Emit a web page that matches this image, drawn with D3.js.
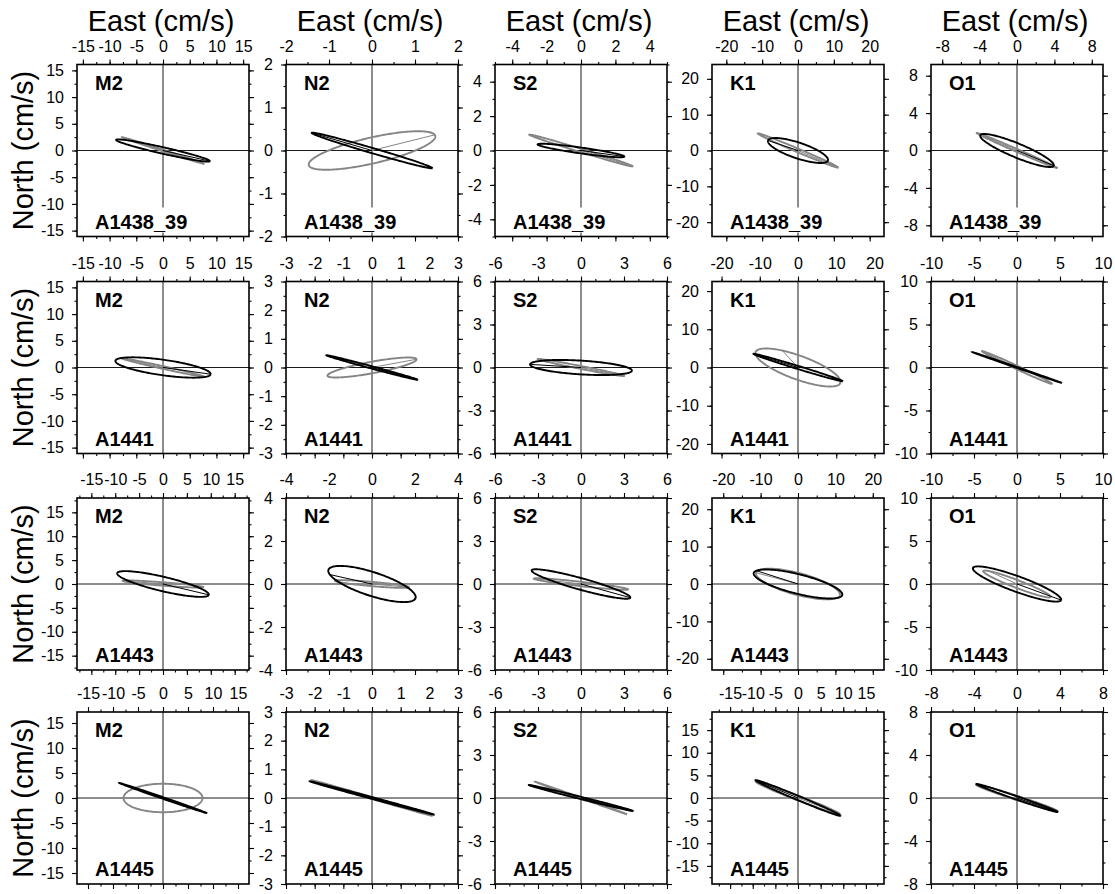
<!DOCTYPE html>
<html>
<head>
<meta charset="utf-8">
<script src="https://cdn.jsdelivr.net/npm/d3@7"></script>
<style>
body { margin: 0; background: #fff; }
svg { display: block; }
text { font-family: "Liberation Sans", Arial, Helvetica, sans-serif; }
</style>
</head>
<body>
<script>
var stations = ['A1438_39', 'A1441', 'A1443', 'A1445'];
var constituents = ['M2', 'N2', 'S2', 'K1', 'O1'];

// half range of each panel (cm/s), same for east and north
var axisLimit = [
  [16.1, 2, 5, 24, 9.2],
  [16.1, 3, 6, 22.5, 10],
  [18, 4, 6, 23, 10],
  [17.2, 3, 6, 19, 8]
];
var annotStep = [
  [5, 1, 2, 10, 4],
  [5, 1, 3, 10, 5],
  [5, 2, 3, 10, 5],
  [5, 1, 3, 5, 4]
];
var minorStep = [
  [2.5, 0.5, 1, 5, 2],
  [2.5, 0.5, 1, 5, 2.5],
  [2.5, 1, 1, 5, 2.5],
  [2.5, 0.5, 1, 2.5, 2]
];

// observed ellipses (black): semi-major, semi-minor, inclination (deg), phase point (deg)
var obsMajor = [
  [9.0, 1.46, 2.55, 8.8, 4.25],
  [9.0, 1.65, 3.56, 12.2, 5.5],
  [9.85, 2.13, 3.57, 12.2, 5.45],
  [9.3, 2.25, 3.75, 10.2, 4.0]
];
var obsMinor = [
  [0.6, 0.06, 0.17, 2.2, 0.75],
  [1.45, 0.04, 0.48, 0.4, 0.05],
  [1.5, 0.55, 0.4, 2.6, 0.9],
  [0.15, 0.03, 0.08, 0.45, 0.15]
];
var obsInc = [
  [-12.8, -16.3, -8, -18.5, -22.5],
  [-8, -15, -3.5, -17, -19],
  [-13.3, -18, -15.5, -14, -20],
  [-19, -15, -14, -22.7, -19]
];
var obsPhase = [
  [0, 180, 0, 180, 0],
  [0, 0, 180, 180, 0],
  [0, 200, 0, 163, 0],
  [0, 0, 0, 180, 0]
];

// model ellipses (gray)
var modMajor = [
  [8.1, 1.51, 3.15, 12.2, 4.7],
  [7.9, 1.58, 3.08, 11.8, 4.5],
  [8.5, 1.73, 3.32, 11.6, 4.2],
  [7.9, 2.2, 3.4, 9.9, 4.0]
];
var modMinor = [
  [0.15, 0.30, 0.1, 0.5, 0.15],
  [0.25, 0.2, 0.1, 3.1, 0.2],
  [0.35, 0.1, 0.15, 2.9, 0.45],
  [2.85, 0.03, 0.03, 0.5, 0.2]
];
var modInc = [
  [-18, 13, -17, -23, -23.5],
  [-12.5, 10.5, -11, -20, -25],
  [-4.5, -5, -6.5, -15, -21],
  [0, -16.5, -19.5, -21, -18]
];
var modPhase = [
  [0, 5, 0, 0, 180],
  [180, 0, 0, 117, 180],
  [180, 0, 180, 180, 150],
  [0, 180, 180, 0, 0]
];

var W = 1115, H = 894;
var half = 86;
var colCenter = [163, 372, 581, 798, 1017];
var rowCenter = [150.5, 367.5, 584, 798];

var svg = d3.select('body').append('svg')
  .attr('width', W)
  .attr('height', H);

// column titles
colCenter.forEach(function(cx) {
  svg.append('text')
    .attr('x', cx - 2)
    .attr('y', 31)
    .attr('text-anchor', 'middle')
    .attr('font-size', 29)
    .text('East (cm/s)');
});
// row titles
rowCenter.forEach(function(cy) {
  svg.append('text')
    .attr('transform', 'translate(33,' + cy + ') rotate(-90)')
    .attr('text-anchor', 'middle')
    .attr('font-size', 29)
    .text('North (cm/s)');
});

function stepTicks(lim, step) {
  var out = [];
  var n = Math.floor(lim / step + 1e-9);
  for (var k = -n; k <= n; k++) out.push(+(k * step).toFixed(4));
  return out;
}

function ellipsePoints(a, b, inc) {
  var th = inc * Math.PI / 180, pts = [];
  for (var i = 0; i <= 180; i++) {
    var t = i / 180 * 2 * Math.PI;
    var u = a * Math.cos(t), v = b * Math.sin(t);
    pts.push([u * Math.cos(th) - v * Math.sin(th), u * Math.sin(th) + v * Math.cos(th)]);
  }
  return pts;
}

function phasePoint(a, b, inc, pha) {
  var th = inc * Math.PI / 180, t = pha * Math.PI / 180;
  var u = a * Math.cos(t), v = b * Math.sin(t);
  return [u * Math.cos(th) - v * Math.sin(th), u * Math.sin(th) + v * Math.cos(th)];
}

stations.forEach(function(st, r) {
  constituents.forEach(function(con, c) {
    var lim = axisLimit[r][c];
    var left = colCenter[c] - half, top = rowCenter[r] - half;
    var x = d3.scaleLinear().domain([-lim, lim]).range([0, 2 * half]);
    var y = d3.scaleLinear().domain([-lim, lim]).range([2 * half, 0]);
    var g = svg.append('g').attr('transform', 'translate(' + left + ',' + top + ')');

    var majors = stepTicks(lim, annotStep[r][c]);
    var minors = stepTicks(lim, minorStep[r][c]);
    var fmt = function(d) { return String(d); };

    // minor ticks on all sides
    g.append('g').call(d3.axisTop(x).tickValues(minors).tickSize(2.5).tickSizeOuter(0).tickFormat(''));
    g.append('g').attr('transform', 'translate(0,' + (2 * half) + ')')
      .call(d3.axisBottom(x).tickValues(minors).tickSize(2.5).tickSizeOuter(0).tickFormat(''));
    g.append('g').call(d3.axisLeft(y).tickValues(minors).tickSize(2.5).tickSizeOuter(0).tickFormat(''));
    g.append('g').attr('transform', 'translate(' + (2 * half) + ',0)')
      .call(d3.axisRight(y).tickValues(minors).tickSize(2.5).tickSizeOuter(0).tickFormat(''));

    // major ticks, labels on top and left
    g.append('g').attr('class', 'lab')
      .call(d3.axisTop(x).tickValues(majors).tickSize(5).tickPadding(8).tickSizeOuter(0).tickFormat(fmt));
    g.append('g').attr('transform', 'translate(0,' + (2 * half) + ')')
      .call(d3.axisBottom(x).tickValues(majors).tickSize(5).tickSizeOuter(0).tickFormat(''));
    g.append('g').attr('class', 'lab')
      .call(d3.axisLeft(y).tickValues(majors).tickSize(5).tickPadding(8).tickSizeOuter(0).tickFormat(fmt));
    g.append('g').attr('transform', 'translate(' + (2 * half) + ',0)')
      .call(d3.axisRight(y).tickValues(majors).tickSize(5).tickSizeOuter(0).tickFormat(''));

    g.selectAll('.domain').remove();
    g.selectAll('.tick line').attr('stroke', '#000').attr('stroke-width', 1.1);
    g.selectAll('.lab text')
      .attr('font-size', 16)
      .attr('font-family', '"Liberation Sans", Arial, Helvetica, sans-serif')
      .attr('fill', '#000');

    // crosshair
    g.append('line')
      .attr('x1', 0).attr('x2', 2 * half)
      .attr('y1', y(0)).attr('y2', y(0))
      .attr('stroke', '#000').attr('stroke-width', 0.9);
    g.append('line')
      .attr('x1', x(0)).attr('x2', x(0))
      .attr('y1', 0).attr('y2', 2 * half)
      .attr('stroke', '#000').attr('stroke-width', 0.9);

    var line = d3.line().x(function(d) { return x(d[0]); }).y(function(d) { return y(d[1]); });

    // model (gray) then observed (black)
    var sets = [
      { a: modMajor[r][c], b: modMinor[r][c], inc: modInc[r][c], pha: modPhase[r][c], col: '#858585' },
      { a: obsMajor[r][c], b: obsMinor[r][c], inc: obsInc[r][c], pha: obsPhase[r][c], col: '#000' }
    ];
    sets.forEach(function(s) {
      g.append('path')
        .attr('d', line(ellipsePoints(s.a, s.b, s.inc)))
        .attr('fill', 'none')
        .attr('stroke', s.col)
        .attr('stroke-width', 1.9);
      var p = phasePoint(s.a, s.b, s.inc, s.pha);
      g.append('path')
        .attr('d', line([[0, 0], p]))
        .attr('fill', 'none')
        .attr('stroke', s.col)
        .attr('stroke-width', 1);
    });

    // labels
    g.append('text')
      .attr('x', 18).attr('y', 25)
      .attr('font-size', 20).attr('font-weight', 'bold')
      .text(con);
    var lab = g.append('text')
      .attr('x', 18).attr('y', 2 * half - 8)
      .attr('font-size', 20).attr('font-weight', 'bold')
      .text(st);
    var bb = lab.node().getBBox();
    g.insert('rect', function() { return lab.node(); })
      .attr('x', bb.x - 3).attr('y', bb.y - 3)
      .attr('width', bb.width + 6).attr('height', bb.height + 3)
      .attr('fill', '#fff');

    // frame
    g.append('rect')
      .attr('x', 0).attr('y', 0)
      .attr('width', 2 * half).attr('height', 2 * half)
      .attr('fill', 'none')
      .attr('stroke', '#000')
      .attr('stroke-width', 1.6);
  });
});
</script>
</body>
</html>
